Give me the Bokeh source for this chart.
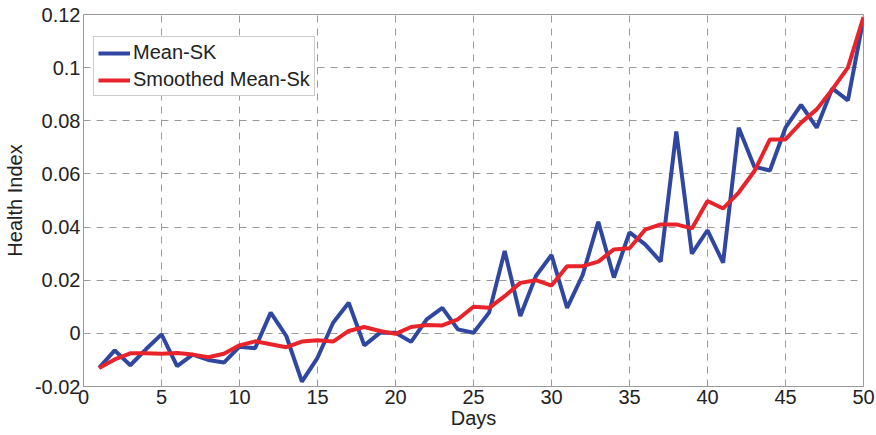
from bokeh.plotting import figure
from bokeh.models import FixedTicker, Legend, LegendItem, Range1d
from bokeh.embed import file_html
from bokeh.resources import INLINE

days = list(range(1, 51))
mean_sk = [-0.013, -0.0064, -0.012, -0.006, -0.0004, -0.0123, -0.008, -0.010, -0.011, -0.005,
           -0.0056, 0.0078, -0.001, -0.0182, -0.0092, 0.004, 0.0115, -0.0045, 0.0002, 0.0002,
           -0.0032, 0.0053, 0.0096, 0.0015, 0.0002, 0.0078, 0.031, 0.0065, 0.0216, 0.0295,
           0.0096, 0.022, 0.042, 0.021, 0.038, 0.0335, 0.027, 0.076, 0.030, 0.0388,
           0.0266, 0.0774, 0.0627, 0.0613, 0.0774, 0.086, 0.0774, 0.0922, 0.0877, 0.1185]
smoothed = [-0.013, -0.0098, -0.0075, -0.0075, -0.0077, -0.0074, -0.008, -0.009, -0.0077, -0.0045,
            -0.003, -0.0041, -0.0052, -0.0031, -0.0026, -0.0031, 0.0009, 0.0024, 0.0009, -0.0002,
            0.0024, 0.0031, 0.003, 0.0053, 0.010, 0.0096, 0.014, 0.019, 0.020, 0.018,
            0.0253, 0.0253, 0.027, 0.0316, 0.032, 0.039, 0.041, 0.041, 0.0395, 0.0498,
            0.047, 0.053, 0.061, 0.073, 0.073, 0.0793, 0.0843, 0.0918, 0.100, 0.119]

x_ticks = [0, 5, 10, 15, 20, 25, 30, 35, 40, 45, 50]
y_ticks = [-0.02, 0, 0.02, 0.04, 0.06, 0.08, 0.1, 0.12]
y_tick_labels = ["-0.02", "0", "0.02", "0.04", "0.06", "0.08", "0.1", "0.12"]

FONT = "Liberation Sans"
GRAY = "#9a9a9a"

p = figure(width=876, height=435, output_backend="svg", toolbar_location=None,
           x_range=Range1d(0, 50), y_range=Range1d(-0.02, 0.12),
           min_border_left=83, min_border_right=13, min_border_top=14, min_border_bottom=49)
p.outline_line_color = GRAY
p.outline_line_width = 1
p.background_fill_color = "white"
p.border_fill_color = "white"

p.xaxis.ticker = FixedTicker(ticks=x_ticks)
p.yaxis.ticker = FixedTicker(ticks=y_ticks)
p.yaxis.major_label_overrides = {t: l for t, l in zip(y_ticks, y_tick_labels)}
p.xaxis.major_label_overrides = {t: str(t) for t in x_ticks}

for ax in (p.xaxis, p.yaxis):
    ax.axis_line_color = GRAY
    ax.major_tick_line_color = GRAY
    ax.major_tick_in = 4
    ax.major_tick_out = 0
    ax.minor_tick_line_color = None
    ax.major_label_text_font = FONT
    ax.major_label_text_font_size = "20px"
    ax.major_label_text_color = "#222222"
    ax.axis_label_text_font = FONT
    ax.axis_label_text_font_size = "20px"
    ax.axis_label_text_font_style = "normal"
    ax.axis_label_text_color = "#222222"

p.xaxis.axis_label = "Days"
p.yaxis.axis_label = "Health Index"
p.xaxis.major_label_standoff = 3
p.yaxis.major_label_standoff = 3
p.xaxis.axis_label_standoff = 0
p.yaxis.axis_label_standoff = 6

p.xgrid.grid_line_color = GRAY
p.ygrid.grid_line_color = GRAY
p.xgrid.grid_line_dash = "7 6"
p.ygrid.grid_line_dash = "7 6"
p.xgrid.grid_line_width = 1
p.ygrid.grid_line_width = 1

r1 = p.line(days, mean_sk, line_color="#2f47a0", line_width=4)
r2 = p.line(days, smoothed, line_color="#e8242a", line_width=4)

legend = Legend(items=[LegendItem(label="Mean-SK", renderers=[r1]),
                       LegendItem(label="Smoothed Mean-Sk", renderers=[r2])],
                location=(10, 290))
legend.margin = 0
legend.padding = 4
legend.spacing = 4
legend.glyph_width = 32
legend.glyph_height = 22
legend.label_height = 22
legend.label_standoff = 3
legend.label_text_font = FONT
legend.label_text_font_size = "20px"
legend.label_text_color = "#222222"
legend.border_line_color = GRAY
legend.border_line_width = 1
legend.background_fill_color = "white"
legend.background_fill_alpha = 1
p.add_layout(legend, "center")

open("out.html", "w").write(file_html(p, INLINE))
